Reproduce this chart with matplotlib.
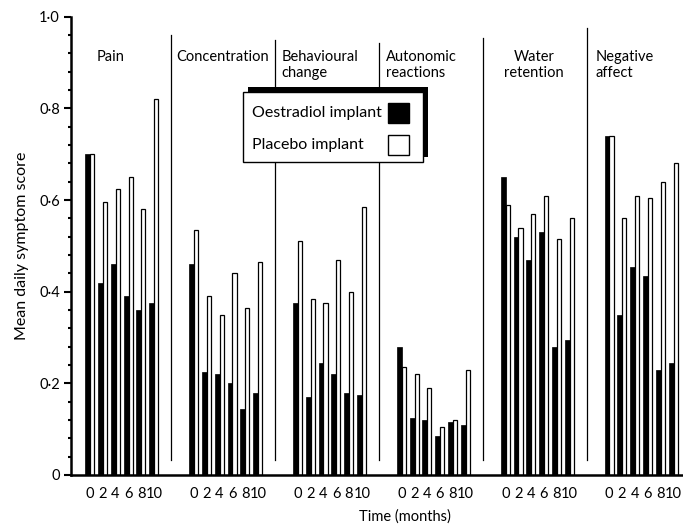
import numpy as np
import matplotlib.pyplot as plt
from matplotlib.patches import Rectangle
from matplotlib.ticker import MultipleLocator, FuncFormatter

plt.rcParams['font.family'] = ['Lato', 'DejaVu Sans']

# symptom groups and assessment times
groups = ['Pain', 'Concentration', 'Behavioural\nchange', 'Autonomic\nreactions',
          'Water\nretention', 'Negative\naffect']
months = ['0', '2', '4', '6', '8', '10']
series = ['Oestradiol implant', 'Placebo implant']

# mean daily symptom score, oestradiol implant vs placebo implant
pain_oe = [0.70, 0.42, 0.46, 0.39, 0.36, 0.375]
pain_pl = [0.70, 0.595, 0.625, 0.65, 0.58, 0.82]
conc_oe = [0.46, 0.225, 0.22, 0.20, 0.145, 0.18]
conc_pl = [0.535, 0.39, 0.35, 0.44, 0.365, 0.465]
behav_oe = [0.375, 0.17, 0.245, 0.22, 0.18, 0.175]
behav_pl = [0.51, 0.385, 0.375, 0.47, 0.40, 0.585]
auto_oe = [0.28, 0.125, 0.12, 0.085, 0.115, 0.11]
auto_pl = [0.235, 0.22, 0.19, 0.105, 0.12, 0.23]
water_oe = [0.65, 0.52, 0.47, 0.53, 0.28, 0.295]
water_pl = [0.59, 0.54, 0.57, 0.61, 0.515, 0.56]
neg_oe = [0.74, 0.35, 0.455, 0.435, 0.23, 0.245]
neg_pl = [0.74, 0.56, 0.61, 0.605, 0.64, 0.68]

oestradiol = [pain_oe, conc_oe, behav_oe, auto_oe, water_oe, neg_oe]
placebo = [pain_pl, conc_pl, behav_pl, auto_pl, water_pl, neg_pl]

# layout
group_step = 8.08
bw_black = 0.38
bw_white = 0.32
title_x = [0.9, 7.1, 15.3, 23.4, 34.9, 39.7]
title_ha = ['left', 'left', 'left', 'left', 'center', 'left']
sep_top = [0.96, 0.95, 0.943, 0.954, 0.976]

fig = plt.figure(figsize=(6.83, 5.26), dpi=100)
ax = fig.add_axes([0.104, 0.097, 0.896, 0.871])

xt, xl = [], []
for g in range(len(groups)):
    x = g * group_step + np.arange(len(months))
    ax.bar(x, oestradiol[g], width=bw_black, align='edge', color='black',
           edgecolor='black', linewidth=0.5)
    ax.bar(x + bw_black, placebo[g], width=bw_white, align='edge', color='white',
           edgecolor='black', linewidth=0.9)
    xt += list(x + 0.36)
    xl += months
    ax.text(title_x[g], 0.928, groups[g], ha=title_ha[g], va='top', fontsize=10.5)
    if g < len(groups) - 1:
        sx = g * group_step + 6.7
        ax.plot([sx, sx], [0.033, sep_top[g]], color='black', lw=0.9)

ax.set_xlim(-1.09, 46.5)
ax.set_ylim(0, 1.0)
ax.set_xticks(xt)
ax.set_xticklabels(xl, fontsize=10.5)
ax.tick_params(axis='x', length=0, pad=9)

ax.yaxis.set_major_locator(MultipleLocator(0.2))
ax.yaxis.set_minor_locator(MultipleLocator(0.04))
ax.yaxis.set_major_formatter(FuncFormatter(lambda v, p: '0' if v == 0 else f'{v:.1f}'.replace('.', '\u00b7')))
ax.tick_params(axis='y', which='major', length=5, width=1.5, labelsize=10.5, pad=3)
ax.tick_params(axis='y', which='minor', length=2, width=1.5)

for s in ['top', 'right']:
    ax.spines[s].set_visible(False)
ax.spines['left'].set_linewidth(1.8)
ax.spines['bottom'].set_linewidth(1.8)

ax.set_ylabel('Mean daily symptom score', fontsize=11.5)
ax.yaxis.set_label_coords(-0.068, 0.5)
ax.set_xlabel('Time (months)', fontsize=10.5)
ax.xaxis.set_label_coords(0.546, -0.075)

# legend box with a solid shadow offset up and to the right
tr = ax.transAxes
ax.add_patch(Rectangle((0.289, 0.694), 0.294, 0.153, transform=tr, facecolor='black',
                       edgecolor='none', zorder=5, clip_on=False))
ax.add_patch(Rectangle((0.281, 0.683), 0.294, 0.153, transform=tr, facecolor='white',
                       edgecolor='black', linewidth=1.0, zorder=6, clip_on=False))
for i, (lab, fc) in enumerate(zip(series, ['black', 'white'])):
    yc = 0.79 - i * 0.07
    ax.text(0.296, yc, lab, transform=tr, ha='left', va='center', fontsize=11.5, zorder=7)
    ax.add_patch(Rectangle((0.518, yc - 0.022), 0.034, 0.044, transform=tr, facecolor=fc,
                           edgecolor='black', linewidth=1.0, zorder=7, clip_on=False))

fig.savefig('out.png', dpi=100)
